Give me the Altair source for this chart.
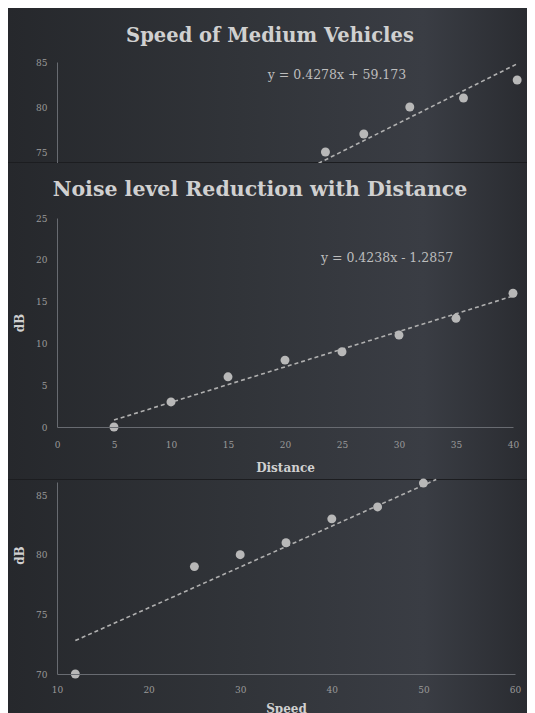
import altair as alt
import pandas as pd

# ---------------- data ----------------
# upper strip: "Speed of Medium Vehicles"
top_title = "Speed of Medium Vehicles"
top_speed = [35, 40, 46, 53, 60]
top_db = [75, 77, 80, 81, 83]
top_trend_speed = [30, 60]
top_trend_db = [72.0, 84.8]
top_eq = "y = 0.4278x + 59.173"

# middle chart: "Noise level Reduction with Distance"
mid_title = "Noise level Reduction with Distance"
noise_dist = [5, 10, 15, 20, 25, 30, 35, 40]
noise_db = [0, 3, 6, 8, 9, 11, 13, 16]
noise_eq = "y = 0.4238x - 1.2857"

# lower strip: speed chart continued
bot_speed = [12, 25, 30, 35, 40, 45, 50]
bot_db = [70, 79, 80, 81, 83, 84, 86]
bot_trend_speed = [12, 51.4]
bot_trend_db = [72.8, 86.3]

FONT = "DejaVu Serif"
PT = "#b8b8b8"
LINE = "#b0b0b0"
TXT = "#d0d0d0"
LAB = "#9a9a9a"
DOM = "#686b71"

BG = alt.LinearGradient(
    gradient="linear", x1=0, x2=1, y1=0, y2=0,
    stops=[alt.GradientStop(color="#26282c", offset=0),
           alt.GradientStop(color="#313439", offset=0.45),
           alt.GradientStop(color="#3a3d44", offset=0.8),
           alt.GradientStop(color="#2a2c31", offset=1)],
)


def backdrop(y0, y1):
    return alt.Chart(pd.DataFrame({"k": [0]})).mark_rect(fill=BG).encode(
        x=alt.value(-49), x2=alt.value(470), y=alt.value(y0), y2=alt.value(y1))


def title_mark(text, size, x, y):
    return alt.Chart(pd.DataFrame({"t": [text]})).mark_text(
        font=FONT, fontSize=size, fontWeight="bold", color=TXT,
        baseline="alphabetic", align="center").encode(
        text="t:N", x=alt.value(x), y=alt.value(y))


def eq_mark(text, x, y):
    return alt.Chart(pd.DataFrame({"t": [text]})).mark_text(
        font=FONT, fontSize=12.5, color="#bdbdbd").encode(
        text="t:N", x=alt.value(x), y=alt.value(y))


def yaxis(values, title=None, title_y=None):
    kw = dict(values=values, title=title, labelFlush=False, labelOverlap=False, zindex=1)
    if title_y is not None:
        kw["titleY"] = title_y
    return alt.Axis(**kw)


def xaxis(values, title, label_pad, title_pad):
    return alt.Axis(values=values, title=title, labelFlush=False, labelOverlap=False,
                    labelPadding=label_pad, titlePadding=title_pad, zindex=1,
                    minExtent=label_pad + 9, maxExtent=label_pad + 9)


# ---------------- top strip ----------------
df_top = pd.DataFrame({"speed": top_speed, "db": top_db})
df_top_tr = pd.DataFrame({"speed": top_trend_speed, "db": top_trend_db})
xs_top = alt.Scale(domain=[0, 61.15], nice=False, zero=False)
ys_top = alt.Scale(domain=[73.78, 85], nice=False, zero=False)

top_line = alt.Chart(df_top_tr).mark_line(color=LINE, strokeWidth=1.6, strokeDash=[4, 3], clip=True).encode(
    x=alt.X("speed:Q", scale=xs_top, axis=None),
    y=alt.Y("db:Q", scale=ys_top, axis=yaxis([75, 80, 85])),
)
top_pts = alt.Chart(df_top).mark_circle(size=80, color=PT, opacity=1, clip=True).encode(
    x=alt.X("speed:Q", scale=xs_top), y=alt.Y("db:Q", scale=ys_top)
)
top = alt.layer(
    backdrop(-54, 100), top_line, top_pts,
    eq_mark(top_eq, 280, 13), title_mark(top_title, 19.5, 213, -20),
).properties(width=469, height=101)

# ---------------- middle chart ----------------
df_noise = pd.DataFrame({"dist": noise_dist, "db": noise_db})
xs_mid = alt.Scale(domain=[0, 40], nice=False, zero=False)
ys_mid = alt.Scale(domain=[0, 25], nice=False, zero=False)

mid_line = alt.Chart(df_noise).transform_regression("dist", "db").mark_line(
    color=LINE, strokeWidth=1.6, strokeDash=[4, 3]).encode(
    x=alt.X("dist:Q", scale=xs_mid, axis=xaxis(list(range(0, 41, 5)), "Distance", 13, 13)),
    y=alt.Y("db:Q", scale=ys_mid, axis=yaxis(list(range(0, 26, 5)), "dB")),
)
mid_pts = alt.Chart(df_noise).mark_circle(size=80, color=PT, opacity=1).encode(
    x=alt.X("dist:Q", scale=xs_mid), y=alt.Y("db:Q", scale=ys_mid)
)
mid = alt.layer(
    backdrop(-55, 261), mid_line, mid_pts,
    eq_mark(noise_eq, 330, 40), title_mark(mid_title, 20.5, 203, -22),
).properties(width=456, height=209)

# ---------------- bottom strip ----------------
df_bot = pd.DataFrame({"speed": bot_speed, "db": bot_db})
df_bot_tr = pd.DataFrame({"speed": bot_trend_speed, "db": bot_trend_db})
xs_bot = alt.Scale(domain=[10, 60], nice=False, zero=False)
ys_bot = alt.Scale(domain=[70, 86.09], nice=False, zero=False)

bot_line = alt.Chart(df_bot_tr).mark_line(color=LINE, strokeWidth=1.6, strokeDash=[4, 3]).encode(
    x=alt.X("speed:Q", scale=xs_bot, axis=xaxis(list(range(10, 61, 10)), "Speed", 11, 9)),
    y=alt.Y("db:Q", scale=ys_bot, axis=yaxis([70, 75, 80, 85], "dB", title_y=73)),
)
bot_pts = alt.Chart(df_bot).mark_circle(size=80, color=PT, opacity=1).encode(
    x=alt.X("speed:Q", scale=xs_bot), y=alt.Y("db:Q", scale=ys_bot)
)
bot = alt.layer(backdrop(-2, 231), bot_line, bot_pts).properties(width=458, height=192)

chart = alt.vconcat(top, mid, bot, spacing=55, bounds="flush").properties(
    background="#1c1d20",
    padding=0,
).configure_view(stroke=None).configure_axis(
    domainColor=DOM, domainWidth=1, ticks=False, tickSize=0, grid=False, zindex=1,
    labelFont=FONT, labelFontSize=9, labelColor=LAB,
    titleFont=FONT, titleFontSize=12, titleFontWeight="bold", titleColor=TXT,
).configure_axisY(
    labelPadding=10, minExtent=19, maxExtent=19, titlePadding=12,
)

chart.save("out.html", embed_options={"renderer": "svg", "actions": False})
